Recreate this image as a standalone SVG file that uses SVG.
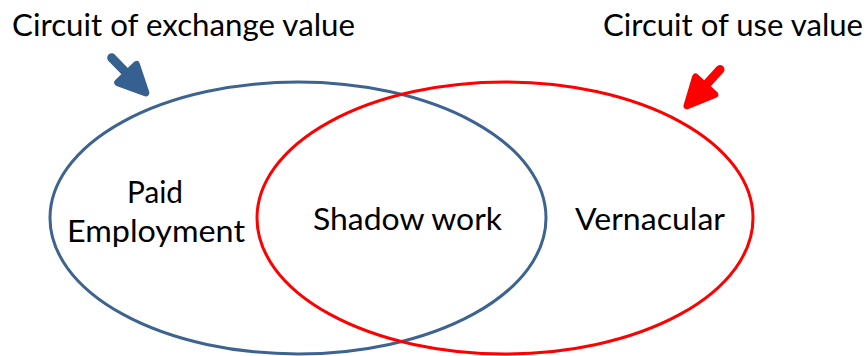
<svg xmlns="http://www.w3.org/2000/svg" width="867" height="356" viewBox="0 0 867 356">
  <defs>
    <style>
      .label { font-family: Lato, "Liberation Sans", sans-serif; font-size: 30px; fill: #000; }
      .set { fill: none; stroke-width: 3; }
      .blue { stroke: #3D6391; }
      .red { stroke: #FF0000; }
    </style>
    <!-- block arrow, tip at the origin, pointing along +x -->
    <g id="pointer">
      <line x1="-52" y1="0" x2="-24" y2="0" stroke-width="9" stroke-linecap="round"/>
      <polygon points="-3,0 -30,-13 -30,13" stroke-width="7" stroke-linejoin="round"/>
    </g>
  </defs>

  <rect width="867" height="356" fill="#fff"/>

  <!-- the two overlapping circuits -->
  <g id="exchange-circuit">
    <ellipse class="set blue" cx="298" cy="218" rx="248" ry="136"/>
  </g>
  <g id="use-circuit">
    <ellipse class="set red" cx="505" cy="218" rx="248" ry="136"/>
  </g>

  <!-- pointers from the captions to their circuits -->
  <g id="connectors">
    <use href="#pointer" transform="translate(148,95) rotate(45.7)" fill="#35608F" stroke="#35608F"/>
    <use href="#pointer" transform="translate(685,108) rotate(132.3)" fill="#FF0000" stroke="#FF0000"/>
  </g>

  <g id="caption-exchange">
    <text class="label" x="12" y="36" textLength="343" lengthAdjust="spacingAndGlyphs">Circuit of exchange value</text>
  </g>
  <g id="caption-use">
    <text class="label" x="603" y="36" textLength="260" lengthAdjust="spacingAndGlyphs">Circuit of use value</text>
  </g>

  <g id="paid-employment">
    <text class="label" x="127" y="203" textLength="56" lengthAdjust="spacingAndGlyphs">Paid</text>
    <text class="label" x="67" y="242" textLength="178" lengthAdjust="spacingAndGlyphs">Employment</text>
  </g>
  <g id="shadow-work">
    <text class="label" x="313" y="230" textLength="189" lengthAdjust="spacingAndGlyphs">Shadow work</text>
  </g>
  <g id="vernacular">
    <text class="label" x="575" y="230" textLength="150" lengthAdjust="spacingAndGlyphs">Vernacular</text>
  </g>
</svg>
